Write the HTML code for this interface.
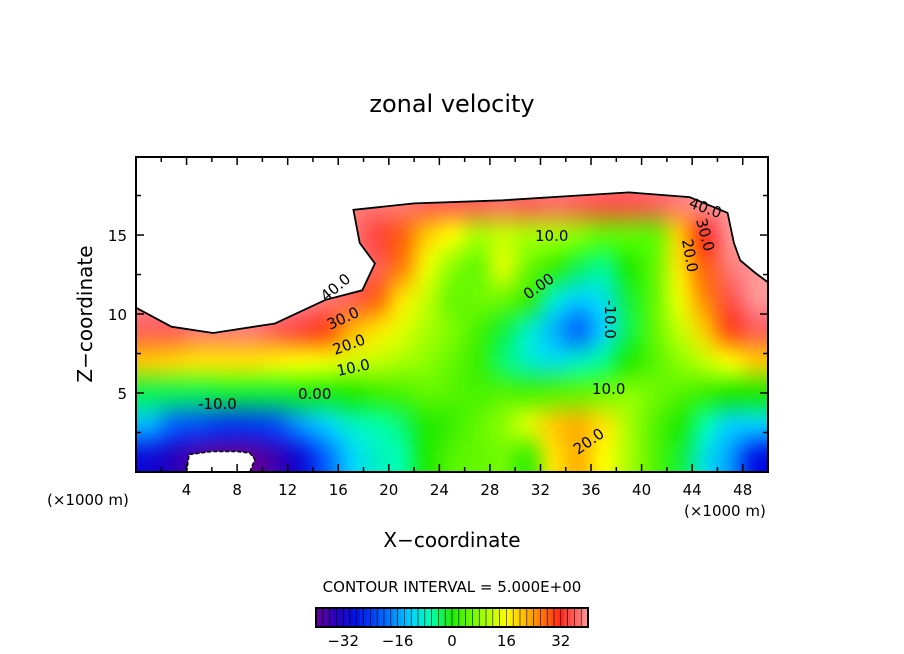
<!DOCTYPE html>
<html><head><meta charset="utf-8">
<style>
body{margin:0;background:#fff;}
#wrap{position:relative;width:904px;height:654px;}
#heat{position:absolute;left:136px;top:157px;width:632px;height:315px;}
#chart{position:absolute;left:0;top:0;}
svg text{font-family:"DejaVu Sans","Liberation Sans",sans-serif;fill:#000;}
</style></head>
<body>
<div id="wrap">
<canvas id="heat" width="632" height="315"></canvas>
<svg id="chart" width="904" height="654" viewBox="0 0 904 654" xmlns="http://www.w3.org/2000/svg">
<text x="452" y="112" font-size="24" text-anchor="middle">zonal velocity</text>
<g id="mask"></g>
<g id="cells"></g>
<g id="labels" font-size="15">
<text x="326" y="302" transform="rotate(-40 326 302)">40.0</text>
<text x="330" y="330" transform="rotate(-25 330 330)">30.0</text>
<text x="335" y="355" transform="rotate(-20 335 355)">20.0</text>
<text x="338" y="376" transform="rotate(-12 338 376)">10.0</text>
<text x="298" y="399">0.00</text>
<text x="198" y="409">-10.0</text>
<text x="535" y="241">10.0</text>
<text x="528" y="300" transform="rotate(-35 528 300)">0.00</text>
<text x="605" y="300" transform="rotate(90 605 300)">-10.0</text>
<text x="592" y="394">10.0</text>
<text x="578" y="455" transform="rotate(-35 578 455)">20.0</text>
<text x="688" y="207" transform="rotate(20 688 207)">40.0</text>
<text x="696" y="220" transform="rotate(75 696 220)">30.0</text>
<text x="682" y="240" transform="rotate(80 682 240)">20.0</text>
</g>
<rect x="136" y="157" width="632" height="315" fill="none" stroke="#000" stroke-width="2"/>
<g id="ticks"></g>
<text x="47" y="505" font-size="15">(×1000 m)</text>
<text x="684" y="516" font-size="15">(×1000 m)</text>
<text x="452" y="547" font-size="20" text-anchor="middle">X−coordinate</text>
<text x="92" y="314" font-size="20" text-anchor="middle" transform="rotate(-90 92 314)">Z−coordinate</text>
<text x="452" y="592" font-size="15" text-anchor="middle">CONTOUR INTERVAL = 5.000E+00</text>
<g id="cbar"></g>
</svg>
</div>
<script>
const xCenters=[1,3,5,7,9,11,13,15,17,19,21,23,25,27,29,31,33,35,37,39,41,43,45,47,49];
const zCenters=[19,17,15,13,11,9,7,5,3,1];
const N=null;
const row19=[N,N,N,N,N,N,N,N,N,N,N,N,N,N,N,N,N,N,N,N,N,N,N,N,N];
const row17=[N,N,N,N,N,N,N,N,38,38,38,36,36,36,37,36,37,36,35,35,36,38,40,40,N];
const row15=[N,N,N,N,N,N,N,N,38,34,28,20,16,10,12,10,10,8,5,5,5,20,32,40,N];
const row13=[N,N,N,N,N,N,N,N,38,36,26,15,8,5,14,6,2,-3,-5,0,5,18,28,38,40];
const row11=[N,N,N,N,N,N,N,38,36,28,18,12,5,6,6,2,-8,-12,-10,-2,5,15,25,35,40];
const row9=[36,36,38,38,38,36,34,30,22,18,14,10,7,3,-2,-8,-14,-20,-12,-3,5,12,20,30,36];
const row7=[20,19,18,18,18,17,16,15,13,12,10,8,5,2,-4,-8,-10,-8,-5,0,4,8,12,16,20];
const row5=[-3,-3,-3,-2,-2,-2,-1,-1,0,2,3,5,4,3,4,3,4,5,6,8,6,4,2,0,0];
const row3=[-14,-20,-22,-24,-24,-22,-16,-12,-8,-6,-4,0,2,5,8,14,20,22,18,10,4,0,-6,-12,-12];
const row1=[-30,-34,-38,-40,-40,-36,-30,-20,-12,-8,-6,0,4,5,6,2,18,22,16,10,4,-2,-10,-16,-28];
const rows=[row19,row17,row15,row13,row11,row9,row7,row5,row3,row1];
const xTicks=[4,8,12,16,20,24,28,32,36,40,44,48];
const yTicks=[5,10,15];
const cbarTicks=[-32,-16,0,16,32];
// outline of the no-data areas (x km, z km)
const topBoundX=[0,2.8,6.1,11,15,17.9,18.9,17.7,17.2,22,29,35,39,43.8,46.8,47.3,47.8,49,50];
const topBoundZ=[10.4,9.2,8.8,9.4,10.9,11.5,13.2,14.5,16.6,17.0,17.2,17.5,17.7,17.4,16.4,14.5,13.4,12.6,12.0];
const botHoleX=[4,4.2,6,8,9,9.4,9.2,9];
const botHoleZ=[0,1.1,1.3,1.3,1.2,0.8,0.4,0];

const NS="http://www.w3.org/2000/svg";
const X0=136,X1=768,Y0=472,Y1=157;
const xs=v=>X0+(v/50)*(X1-X0);
const ys=v=>Y0-(v/19.94)*(Y0-Y1);
const stops=[[-40,[100,0,150]],[-34,[40,0,190]],[-28,[0,20,230]],[-20,[0,100,255]],[-12,[0,210,255]],[-6,[0,255,170]],[0,[30,235,0]],[8,[140,255,0]],[16,[255,255,0]],[24,[255,150,0]],[32,[255,40,30]],[40,[255,150,150]]];
function rgb(v){
  if(v<=stops[0][0])return stops[0][1];
  for(let i=1;i<stops.length;i++){
    if(v<=stops[i][0]){const a=stops[i-1],b=stops[i];const t=(v-a[0])/(b[0]-a[0]);
      return a[1].map((q,k)=>Math.round(q+(b[1][k]-q)*t));}
  }
  return stops[stops.length-1][1];
}
const color=v=>'rgb('+rgb(v)+')';
const small=document.createElement('canvas');
small.width=xCenters.length;small.height=zCenters.length;
const sctx=small.getContext('2d');
const img=sctx.createImageData(small.width,small.height);
rows.forEach((r,ri)=>r.forEach((v,ci)=>{
  const c=v===null?rgb(42):rgb(v);const k=(ri*small.width+ci)*4;
  img.data[k]=c[0];img.data[k+1]=c[1];img.data[k+2]=c[2];img.data[k+3]=255;
}));
sctx.putImageData(img,0,0);
const heat=document.getElementById('heat');
const hctx=heat.getContext('2d');
hctx.imageSmoothingEnabled=true;
hctx.imageSmoothingQuality='high';
hctx.drawImage(small,0,0,small.width,small.height,xs(0)-X0,ys(20)-Y1,xs(50)-xs(0),ys(0)-ys(20));
const mask=document.getElementById('mask');
let edge='';
topBoundX.forEach((x,i)=>{edge+=(i?' L':'M')+xs(x).toFixed(1)+','+ys(topBoundZ[i]).toFixed(1);});
const p1=document.createElementNS(NS,'path');
p1.setAttribute('d',edge+' L'+xs(50)+','+(Y1-2)+' L'+xs(0)+','+(Y1-2)+' Z');
p1.setAttribute('fill','#fff');


mask.appendChild(p1);
const p1b=document.createElementNS(NS,'path');
p1b.setAttribute('d',edge);p1b.setAttribute('fill','none');p1b.setAttribute('stroke','#000');p1b.setAttribute('stroke-width','1.8');


mask.appendChild(p1b);
let d2='';
botHoleX.forEach((x,i)=>{d2+=(i?' L':'M')+xs(x).toFixed(1)+','+ys(botHoleZ[i]).toFixed(1);});
d2+=' Z';
const p2=document.createElementNS(NS,'path');p2.setAttribute('d',d2);p2.setAttribute('fill','#fff');p2.setAttribute('stroke','#000');p2.setAttribute('stroke-width','1.5');p2.setAttribute('stroke-dasharray','4 2');


mask.appendChild(p2);
const cells=document.getElementById('cells');
rows.forEach((r,ri)=>{
  const zc=zCenters[ri];
  r.forEach((v,ci)=>{
    const xc=xCenters[ci];
    const el=document.createElementNS(NS,'rect');
    el.setAttribute('x',xs(xc-1));el.setAttribute('y',ys(zc+1));
    el.setAttribute('width',xs(xc+1)-xs(xc-1));el.setAttribute('height',ys(zc-1)-ys(zc+1));
    el.setAttribute('fill',v===null?'none':color(v));
    el.setAttribute('fill-opacity','0');
    
    
    cells.appendChild(el);
  });
});
const tk=document.getElementById('ticks');
function line(x1,y1,x2,y2,w){const l=document.createElementNS(NS,'line');l.setAttribute('x1',x1);l.setAttribute('y1',y1);l.setAttribute('x2',x2);l.setAttribute('y2',y2);l.setAttribute('stroke','#000');l.setAttribute('stroke-width',w||1.5);return l;}
for(let v=2;v<50;v+=2){const x=xs(v);const L=(v%4===0)?8:5;
  const a=line(x,Y0,x,Y0-L);tk.appendChild(a);
  const b=line(x,Y1,x,Y1+L);tk.appendChild(b);}
for(let v=2.5;v<20;v+=2.5){const y=ys(v);const L=(v%5===0)?8:5;
  const a=line(X0,y,X0+L,y);tk.appendChild(a);
  const b=line(X1,y,X1-L,y);tk.appendChild(b);}
xTicks.forEach(v=>{const t=document.createElementNS(NS,'text');t.setAttribute('x',xs(v));t.setAttribute('y',495);t.setAttribute('font-size','15');t.setAttribute('text-anchor','middle');t.textContent=v;
  
  
  tk.appendChild(t);});
yTicks.forEach(v=>{const t=document.createElementNS(NS,'text');t.setAttribute('x',127);t.setAttribute('y',ys(v)+6);t.setAttribute('font-size','15');t.setAttribute('text-anchor','end');t.textContent=v;
  
  
  tk.appendChild(t);});
const cb=document.getElementById('cbar');
const CX0=316,CX1=588,CY0=608,CY1=627;
const cs=v=>CX0+(v+40)/80*(CX1-CX0);
for(let v=-40;v<40;v+=1){const r=document.createElementNS(NS,'rect');r.setAttribute('x',cs(v));r.setAttribute('y',CY0);r.setAttribute('width',cs(v+1)-cs(v)+0.2);r.setAttribute('height',CY1-CY0);r.setAttribute('fill',color(v+0.5));
  
  
  cb.appendChild(r);
  if(v>-40&&v%2===0){const l=line(cs(v),CY0,cs(v),CY1,0.6);cb.appendChild(l);}}
const fr=document.createElementNS(NS,'rect');fr.setAttribute('x',CX0);fr.setAttribute('y',CY0);fr.setAttribute('width',CX1-CX0);fr.setAttribute('height',CY1-CY0);fr.setAttribute('fill','none');fr.setAttribute('stroke','#000');fr.setAttribute('stroke-width','2');


cb.appendChild(fr);
cbarTicks.forEach(v=>{const t=document.createElementNS(NS,'text');t.setAttribute('x',cs(v));t.setAttribute('y',646);t.setAttribute('font-size','15');t.setAttribute('text-anchor','middle');t.textContent=v<0?'−'+(-v):v;
  
  
  cb.appendChild(t);});
</script>
</body></html>
